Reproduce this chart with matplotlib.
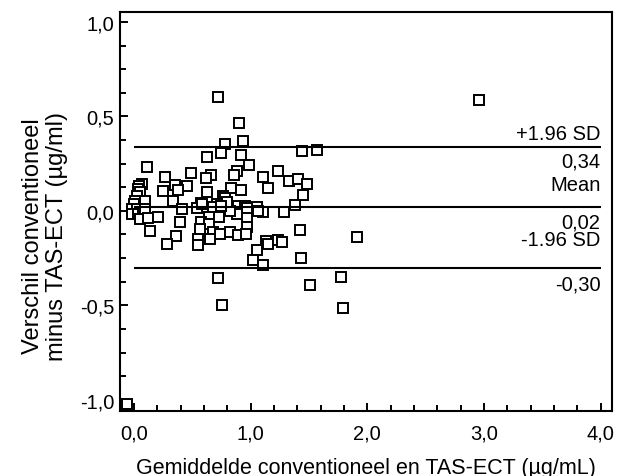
import matplotlib.pyplot as plt
from matplotlib.ticker import MultipleLocator, FuncFormatter

plt.rcParams['font.family'] = 'Liberation Sans'

# gemiddelde van beide methoden (x) en verschil (y)
mean_x = [0.066, 0.043, 0.037, 0.051, 0.023, 0.094, 0.009, 0.000, -0.020, 0.023,
          -0.020, 0.037, 0.080, 0.094, 0.051, 0.123, 0.208, 0.137, 0.109, 0.266,
          0.251, 0.717, 0.902, 0.937, 0.780, 0.745, 0.623, 0.914, 0.985, 0.880,
          0.857, 0.488, 0.657, 0.614, 1.108, 0.452, 0.351, 0.380, 1.151, 0.829,
          0.914, 0.623, 0.765, 0.780, 0.337, 0.574, 0.409, 0.537, 0.709, 0.680,
          0.894, 0.951, 1.051, 1.103, 0.880, 0.731, 0.643, 0.971, 0.394, 0.574,
          0.643, 0.966, 0.566, 0.680, 0.737, 0.823, 0.894, 0.960, 0.357, 0.546,
          0.651, 0.280, 0.551, 1.131, 1.051, 1.017, 1.103, 0.717, 0.757, 1.442,
          1.566, 1.237, 1.328, 1.403, 1.480, 1.451, 1.380, 1.060, 1.285, 0.823,
          0.580, 1.422, 1.908, 1.146, 1.237, 1.271, 1.431, 1.508, 1.771, 1.794,
          2.956, -0.063, 0.797, 0.745, 0.966]
diff_y = [0.141, 0.132, 0.115, 0.098, 0.079, 0.053, 0.053, 0.036, 0.009, 0.009,
          -0.017, -0.017, -0.008, 0.009, -0.044, -0.040, -0.032, -0.106, 0.230, 0.177,
          0.106, 0.601, 0.463, 0.368, 0.353, 0.306, 0.283, 0.297, 0.242, 0.212,
          0.191, 0.198, 0.191, 0.172, 0.177, 0.132, 0.136, 0.110, 0.120, 0.119,
          0.110, 0.098, 0.079, 0.067, 0.053, 0.039, 0.009, 0.013, 0.036, 0.018,
          0.025, 0.025, 0.018, -0.008, -0.017, -0.032, -0.032, -0.035, -0.058, -0.058,
          -0.070, -0.085, -0.097, -0.114, -0.120, -0.114, -0.129, -0.123, -0.132, -0.150,
          -0.150, -0.173, -0.180, -0.162, -0.207, -0.260, -0.286, -0.357, -0.498, 0.318,
          0.323, 0.209, 0.156, 0.168, 0.141, 0.085, 0.032, -0.003, -0.008, 0.000,
          0.036, -0.102, -0.138, -0.173, -0.155, -0.164, -0.247, -0.392, -0.348, -0.512,
          0.588, -1.024, 0.046, 0.025, 0.013]

mean_diff = 0.02
upper_loa = 0.34
lower_loa = -0.30


def komma(v, digits):
    return ('%.*f' % (digits, v)).replace('.', ',')


fig = plt.figure(figsize=(6.18, 4.77), dpi=100)
ax = fig.add_axes([0.194, 0.136, 0.796, 0.837])

ax.plot(mean_x, diff_y, 's', mfc='white', mec='black', ms=6.6, mew=1.4)
ax.hlines([upper_loa, mean_diff, lower_loa], 0, 4.0, color='black', lw=1.5)

ax.set_xlim(-0.12, 4.096)
ax.set_ylim(-1.06, 1.053)

ax.xaxis.set_major_locator(MultipleLocator(1.0))
ax.xaxis.set_minor_locator(MultipleLocator(0.2))
ax.yaxis.set_major_locator(MultipleLocator(0.5))
ax.yaxis.set_minor_locator(MultipleLocator(0.125))
ax.xaxis.set_major_formatter(FuncFormatter(lambda v, p: komma(v, 1)))
ax.yaxis.set_major_formatter(FuncFormatter(lambda v, p: komma(v, 1)))

ax.tick_params(which='both', direction='in', width=1.4, labelsize=14.5)
ax.tick_params(which='major', length=6)
ax.tick_params(which='minor', length=4)
ax.tick_params(axis='x', pad=9)
ax.tick_params(axis='y', pad=4)
for s in ax.spines.values():
    s.set_linewidth(1.5)

# labels bij de lijnen
lbl = dict(ha='right', va='baseline', fontsize=14.5, textcoords='offset points')
ax.annotate('+1.96 SD', (4.0, upper_loa), xytext=(0, 5.5), **lbl)
ax.annotate(komma(upper_loa, 2), (4.0, upper_loa), xytext=(0, -14), **lbl)
ax.annotate('Mean', (4.0, mean_diff), xytext=(0, 12.5), **lbl)
ax.annotate(komma(mean_diff, 2), (4.0, mean_diff), xytext=(0, -14.5), **lbl)
ax.annotate('-1.96 SD', (4.0, lower_loa), xytext=(0, 16), **lbl)
ax.annotate(komma(lower_loa, 2), (4.0, lower_loa), xytext=(0, -16), **lbl)

ax.set_xlabel('Gemiddelde conventioneel en TAS-ECT (µg/mL)', fontsize=15.5, labelpad=10)
fig.text(0.073, 0.505, 'Verschil conventioneel\nminus TAS-ECT (µg/ml)', rotation=90,
         fontsize=17, ha='center', va='center', multialignment='center',
         linespacing=1.1)

fig.savefig('out.png', dpi=100)
